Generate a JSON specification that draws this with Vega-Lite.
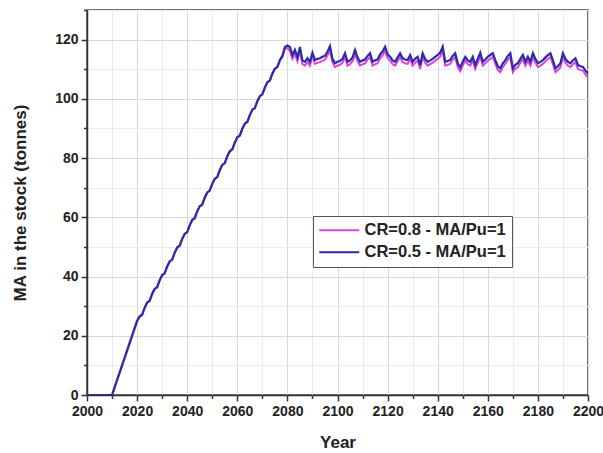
{
  "$schema": "https://vega.github.io/schema/vega-lite/v6.json",
  "width": 501,
  "height": 385,
  "autosize": {"type": "none"},
  "padding": {"left": 87, "top": 10, "right": 15, "bottom": 58},
  "background": "white",
  "config": {
    "font": "Liberation Sans",
    "view": {"stroke": "#444444", "strokeWidth": 1.5},
    "axis": {
      "labelFont": "Liberation Sans",
      "labelFontWeight": "bold",
      "labelFontSize": 14,
      "labelColor": "#222222",
      "titleFont": "Liberation Sans",
      "titleFontWeight": "bold",
      "titleFontSize": 17,
      "titleColor": "#222222",
      "domainColor": "#333333",
      "domainWidth": 1.5,
      "tickColor": "#333333",
      "tickWidth": 1.5,
      "labelPadding": 3
    }
  },
  "data": {
    "values": [
      {"year": 2000, "a": 0, "b": 0},
      {"year": 2001, "a": 0, "b": 0},
      {"year": 2002, "a": 0, "b": 0},
      {"year": 2003, "a": 0, "b": 0},
      {"year": 2004, "a": 0, "b": 0},
      {"year": 2005, "a": 0, "b": 0},
      {"year": 2006, "a": 0, "b": 0},
      {"year": 2007, "a": 0, "b": 0},
      {"year": 2008, "a": 0, "b": 0},
      {"year": 2009, "a": 0, "b": 0},
      {"year": 2010, "a": 0, "b": 0},
      {"year": 2011, "a": 2.5, "b": 2.5},
      {"year": 2012, "a": 5, "b": 5},
      {"year": 2013, "a": 7.5, "b": 7.5},
      {"year": 2014, "a": 10, "b": 10},
      {"year": 2015, "a": 12.5, "b": 12.5},
      {"year": 2016, "a": 15, "b": 15},
      {"year": 2017, "a": 17.5, "b": 17.5},
      {"year": 2018, "a": 20, "b": 20},
      {"year": 2019, "a": 22.5, "b": 22.5},
      {"year": 2020, "a": 25, "b": 25},
      {"year": 2021, "a": 26.5, "b": 26.5},
      {"year": 2022, "a": 27.1, "b": 27.1},
      {"year": 2023, "a": 29.4, "b": 29.4},
      {"year": 2024, "a": 31.2, "b": 31.2},
      {"year": 2025, "a": 31.8, "b": 31.8},
      {"year": 2026, "a": 34.1, "b": 34.1},
      {"year": 2027, "a": 35.8, "b": 35.8},
      {"year": 2028, "a": 36.4, "b": 36.4},
      {"year": 2029, "a": 38.7, "b": 38.7},
      {"year": 2030, "a": 40.5, "b": 40.5},
      {"year": 2031, "a": 41.1, "b": 41.1},
      {"year": 2032, "a": 43.4, "b": 43.4},
      {"year": 2033, "a": 45.1, "b": 45.1},
      {"year": 2034, "a": 45.7, "b": 45.7},
      {"year": 2035, "a": 48.0, "b": 48.0},
      {"year": 2036, "a": 49.8, "b": 49.8},
      {"year": 2037, "a": 50.4, "b": 50.4},
      {"year": 2038, "a": 52.7, "b": 52.7},
      {"year": 2039, "a": 54.4, "b": 54.4},
      {"year": 2040, "a": 55.0, "b": 55.0},
      {"year": 2041, "a": 57.3, "b": 57.3},
      {"year": 2042, "a": 59.1, "b": 59.1},
      {"year": 2043, "a": 59.7, "b": 59.7},
      {"year": 2044, "a": 62.0, "b": 62.0},
      {"year": 2045, "a": 63.7, "b": 63.7},
      {"year": 2046, "a": 64.3, "b": 64.3},
      {"year": 2047, "a": 66.6, "b": 66.6},
      {"year": 2048, "a": 68.4, "b": 68.4},
      {"year": 2049, "a": 69.0, "b": 69.0},
      {"year": 2050, "a": 71.3, "b": 71.3},
      {"year": 2051, "a": 73.0, "b": 73.0},
      {"year": 2052, "a": 73.6, "b": 73.6},
      {"year": 2053, "a": 75.9, "b": 75.9},
      {"year": 2054, "a": 77.7, "b": 77.7},
      {"year": 2055, "a": 78.3, "b": 78.3},
      {"year": 2056, "a": 80.6, "b": 80.6},
      {"year": 2057, "a": 82.3, "b": 82.3},
      {"year": 2058, "a": 82.9, "b": 82.9},
      {"year": 2059, "a": 85.2, "b": 85.2},
      {"year": 2060, "a": 87.0, "b": 87.0},
      {"year": 2061, "a": 87.6, "b": 87.6},
      {"year": 2062, "a": 89.9, "b": 89.9},
      {"year": 2063, "a": 91.6, "b": 91.6},
      {"year": 2064, "a": 92.2, "b": 92.2},
      {"year": 2065, "a": 94.5, "b": 94.5},
      {"year": 2066, "a": 96.3, "b": 96.3},
      {"year": 2067, "a": 96.9, "b": 96.9},
      {"year": 2068, "a": 99.2, "b": 99.2},
      {"year": 2069, "a": 100.9, "b": 100.9},
      {"year": 2070, "a": 101.5, "b": 101.5},
      {"year": 2071, "a": 103.8, "b": 103.8},
      {"year": 2072, "a": 105.6, "b": 105.6},
      {"year": 2073, "a": 106.2, "b": 106.2},
      {"year": 2074, "a": 108.5, "b": 108.5},
      {"year": 2075, "a": 110.2, "b": 110.2},
      {"year": 2076, "a": 110.8, "b": 110.8},
      {"year": 2077, "a": 112.9, "b": 113.1},
      {"year": 2078, "a": 114.0, "b": 114.5},
      {"year": 2079, "a": 116.9, "b": 117.5},
      {"year": 2080, "a": 117.2, "b": 118},
      {"year": 2081, "a": 116.2, "b": 117.5},
      {"year": 2082, "a": 113.5, "b": 114.8},
      {"year": 2083, "a": 115.2, "b": 116.5},
      {"year": 2084, "a": 112.7, "b": 114},
      {"year": 2085, "a": 116.2, "b": 117.5},
      {"year": 2086, "a": 111.7, "b": 113},
      {"year": 2087, "a": 111.2, "b": 112.5},
      {"year": 2088, "a": 112.4, "b": 113.7},
      {"year": 2089, "a": 111.2, "b": 112.5},
      {"year": 2090, "a": 114.3, "b": 115.6},
      {"year": 2091, "a": 111.8, "b": 113.1},
      {"year": 2092, "a": 112.2, "b": 113.5},
      {"year": 2093, "a": 112.4, "b": 113.7},
      {"year": 2094, "a": 112.9, "b": 114.2},
      {"year": 2095, "a": 113.2, "b": 114.5},
      {"year": 2096, "a": 114.6, "b": 115.9},
      {"year": 2097, "a": 116.5, "b": 117.8},
      {"year": 2098, "a": 112.2, "b": 113.5},
      {"year": 2099, "a": 110.7, "b": 112},
      {"year": 2100, "a": 111.2, "b": 112.5},
      {"year": 2101, "a": 111.5, "b": 112.8},
      {"year": 2102, "a": 112.2, "b": 113.5},
      {"year": 2103, "a": 114.1, "b": 115.4},
      {"year": 2104, "a": 111.2, "b": 112.5},
      {"year": 2105, "a": 111.7, "b": 113},
      {"year": 2106, "a": 112.7, "b": 114},
      {"year": 2107, "a": 115.2, "b": 116.5},
      {"year": 2108, "a": 112.7, "b": 114},
      {"year": 2109, "a": 111.2, "b": 112.5},
      {"year": 2110, "a": 111.7, "b": 113},
      {"year": 2111, "a": 112.0, "b": 113.3},
      {"year": 2112, "a": 113.2, "b": 114.5},
      {"year": 2113, "a": 114.1, "b": 115.4},
      {"year": 2114, "a": 111.2, "b": 112.5},
      {"year": 2115, "a": 111.7, "b": 113},
      {"year": 2116, "a": 112.0, "b": 113.3},
      {"year": 2117, "a": 113.7, "b": 115},
      {"year": 2118, "a": 114.7, "b": 116},
      {"year": 2119, "a": 116.3, "b": 117.6},
      {"year": 2120, "a": 113.7, "b": 115},
      {"year": 2121, "a": 112.9, "b": 114.2},
      {"year": 2122, "a": 111.7, "b": 113},
      {"year": 2123, "a": 111.2, "b": 112.5},
      {"year": 2124, "a": 112.7, "b": 114},
      {"year": 2125, "a": 114.1, "b": 115.4},
      {"year": 2126, "a": 112.4, "b": 113.7},
      {"year": 2127, "a": 112.0, "b": 113.3},
      {"year": 2128, "a": 111.8, "b": 113.1},
      {"year": 2129, "a": 113.5, "b": 114.8},
      {"year": 2130, "a": 111.2, "b": 112.5},
      {"year": 2131, "a": 112.2, "b": 113.5},
      {"year": 2132, "a": 112.9, "b": 114.2},
      {"year": 2133, "a": 110.1, "b": 111.4},
      {"year": 2134, "a": 114.1, "b": 115.4},
      {"year": 2135, "a": 112.2, "b": 113.5},
      {"year": 2136, "a": 111.2, "b": 112.5},
      {"year": 2137, "a": 111.7, "b": 113},
      {"year": 2138, "a": 112.2, "b": 113.5},
      {"year": 2139, "a": 112.9, "b": 114.2},
      {"year": 2140, "a": 113.5, "b": 114.8},
      {"year": 2141, "a": 114.3, "b": 115.6},
      {"year": 2142, "a": 116.3, "b": 117.6},
      {"year": 2143, "a": 111.2, "b": 112.5},
      {"year": 2144, "a": 111.5, "b": 112.8},
      {"year": 2145, "a": 111.8, "b": 113.1},
      {"year": 2146, "a": 113.2, "b": 114.5},
      {"year": 2147, "a": 114.1, "b": 115.4},
      {"year": 2148, "a": 110.7, "b": 112},
      {"year": 2149, "a": 109.3, "b": 110.6},
      {"year": 2150, "a": 111.2, "b": 112.5},
      {"year": 2151, "a": 112.9, "b": 114.2},
      {"year": 2152, "a": 111.7, "b": 113},
      {"year": 2153, "a": 111.2, "b": 112.5},
      {"year": 2154, "a": 112.9, "b": 114.2},
      {"year": 2155, "a": 110.1, "b": 111.4},
      {"year": 2156, "a": 112.2, "b": 113.5},
      {"year": 2157, "a": 114.3, "b": 115.6},
      {"year": 2158, "a": 111.2, "b": 112.5},
      {"year": 2159, "a": 112.0, "b": 113.3},
      {"year": 2160, "a": 112.9, "b": 114.2},
      {"year": 2161, "a": 113.5, "b": 114.8},
      {"year": 2162, "a": 114.1, "b": 115.4},
      {"year": 2163, "a": 111.8, "b": 113.1},
      {"year": 2164, "a": 109.7, "b": 111},
      {"year": 2165, "a": 109.0, "b": 110.3},
      {"year": 2166, "a": 110.7, "b": 112},
      {"year": 2167, "a": 111.8, "b": 113.1},
      {"year": 2168, "a": 113.2, "b": 114.5},
      {"year": 2169, "a": 114.1, "b": 115.4},
      {"year": 2170, "a": 109.0, "b": 110.3},
      {"year": 2171, "a": 110.2, "b": 111.5},
      {"year": 2172, "a": 110.7, "b": 112},
      {"year": 2173, "a": 112.2, "b": 113.5},
      {"year": 2174, "a": 113.5, "b": 114.8},
      {"year": 2175, "a": 111.2, "b": 112.5},
      {"year": 2176, "a": 112.9, "b": 114.2},
      {"year": 2177, "a": 111.2, "b": 112.5},
      {"year": 2178, "a": 114.1, "b": 115.4},
      {"year": 2179, "a": 112.2, "b": 113.5},
      {"year": 2180, "a": 110.7, "b": 112},
      {"year": 2181, "a": 111.2, "b": 112.5},
      {"year": 2182, "a": 111.8, "b": 113.1},
      {"year": 2183, "a": 112.7, "b": 114},
      {"year": 2184, "a": 113.5, "b": 114.8},
      {"year": 2185, "a": 114.1, "b": 115.4},
      {"year": 2186, "a": 111.7, "b": 113},
      {"year": 2187, "a": 109.0, "b": 110.3},
      {"year": 2188, "a": 109.7, "b": 111},
      {"year": 2189, "a": 110.7, "b": 112},
      {"year": 2190, "a": 114.1, "b": 115.4},
      {"year": 2191, "a": 112.2, "b": 113.5},
      {"year": 2192, "a": 111.2, "b": 112.5},
      {"year": 2193, "a": 110.7, "b": 112},
      {"year": 2194, "a": 111.7, "b": 113},
      {"year": 2195, "a": 112.4, "b": 113.7},
      {"year": 2196, "a": 110.1, "b": 111.4},
      {"year": 2197, "a": 109.7, "b": 111},
      {"year": 2198, "a": 109.5, "b": 110.8},
      {"year": 2199, "a": 108.2, "b": 109.5},
      {"year": 2200, "a": 107.2, "b": 108.5}
    ]
  },
  "encoding": {
    "x": {
      "field": "year",
      "type": "quantitative",
      "title": "Year",
      "scale": {"domain": [2000, 2200], "nice": false, "zero": false},
      "axis": {
        "values": [2000, 2010, 2020, 2030, 2040, 2050, 2060, 2070, 2080, 2090, 2100, 2110, 2120, 2130, 2140, 2150, 2160, 2170, 2180, 2190, 2200],
        "format": "d",
        "labelExpr": "datum.value % 20 === 0 ? datum.label : ''",
        "tickSize": {"condition": {"test": "datum.value % 20 === 0", "value": 6}, "value": 3.5},
        "gridColor": {"condition": {"test": "datum.value % 20 === 0", "value": "#d8d8d8"}, "value": "#ececec"},
        "labelFlush": false,
        "labelOverlap": false,
        "titlePadding": 16
      }
    },
    "y": {
      "type": "quantitative",
      "title": "MA in the stock (tonnes)",
      "scale": {"domain": [0, 130], "nice": false},
      "axis": {
        "values": [0, 10, 20, 30, 40, 50, 60, 70, 80, 90, 100, 110, 120, 130],
        "labelExpr": "datum.value % 20 === 0 && datum.value <= 120 ? datum.label : ''",
        "tickSize": {"condition": {"test": "datum.value % 20 === 0", "value": 6}, "value": 3.5},
        "gridColor": {"condition": {"test": "datum.value % 20 === 0", "value": "#d8d8d8"}, "value": "#ececec"},
        "labelOverlap": false,
        "labelFlush": false,
        "titlePadding": 25
      }
    }
  },
  "layer": [
    {
      "mark": {"type": "line", "strokeWidth": 2, "clip": true},
      "encoding": {
        "y": {"field": "a", "type": "quantitative"},
        "color": {
          "datum": "CR=0.8 - MA/Pu=1",
          "type": "nominal",
          "scale": {"domain": ["CR=0.8 - MA/Pu=1", "CR=0.5 - MA/Pu=1"], "range": ["#dd44dd", "#2b2baa"]},
          "legend": {
            "title": null,
            "orient": "none",
            "legendX": 226,
            "legendY": 206,
            "symbolType": "M-4,0H4",
            "symbolSize": 100,
            "symbolStrokeWidth": 2,
            "symbolOffset": 12,
            "labelFont": "Liberation Sans",
            "labelFontWeight": "bold",
            "labelFontSize": 16.5,
            "labelColor": "#222222",
            "labelOffset": 17,
            "rowPadding": 5,
            "padding": 6,
            "strokeColor": "#555555",
            "fillColor": "white"
          }
        }
      }
    },
    {
      "mark": {"type": "line", "strokeWidth": 2.2, "clip": true},
      "encoding": {
        "y": {"field": "b", "type": "quantitative"},
        "color": {"datum": "CR=0.5 - MA/Pu=1", "type": "nominal"}
      }
    }
  ]
}
